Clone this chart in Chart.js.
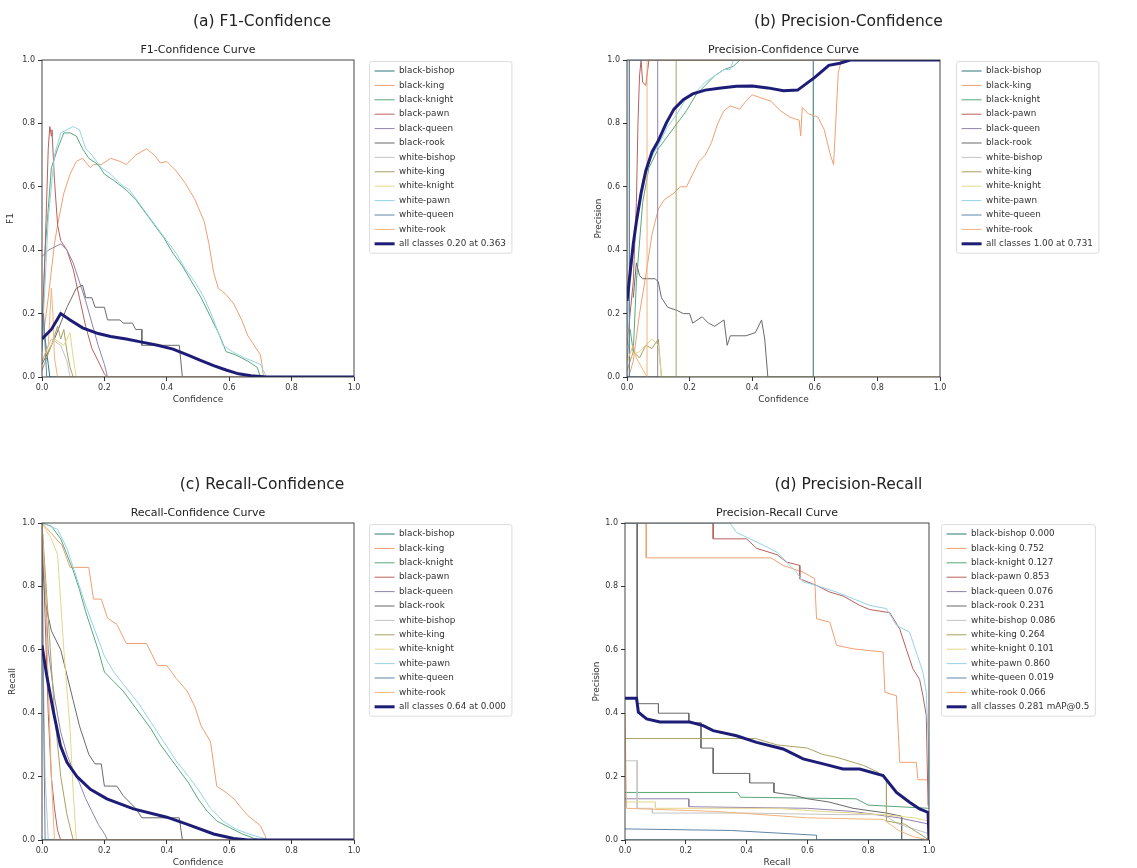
<!DOCTYPE html>
<html>
<head>
<meta charset="utf-8">
<script src="https://cdn.jsdelivr.net/npm/chart.js@4.4.0/dist/chart.umd.min.js"></script>
<style>
html, body { margin: 0; padding: 0; background: #fff; overflow: hidden; }
body { width: 1137px; height: 868px; position: relative; }
canvas { position: absolute; }
</style>
</head>
<body>
<canvas id="f1Chart" width="524" height="412" style="left:0px;top:0px"></canvas>
<canvas id="pChart" width="577" height="412" style="left:560px;top:0px"></canvas>
<canvas id="rChart" width="524" height="412" style="left:0px;top:463px"></canvas>
<canvas id="prChart" width="577" height="412" style="left:560px;top:463px"></canvas>
<script>
const classNames = ['black-bishop', 'black-king', 'black-knight', 'black-pawn', 'black-queen', 'black-rook',
  'white-bishop', 'white-king', 'white-knight', 'white-pawn', 'white-queen', 'white-rook'];
const apValues = ['0.000', '0.752', '0.127', '0.853', '0.076', '0.231', '0.086', '0.264', '0.101', '0.860', '0.019', '0.066'];
const tickValues = [0, 0.2, 0.4, 0.6, 0.8, 1.0];

// (a) F1-Confidence: [confidence, F1]
const f1BlackBishop = [[0,0.12],[0.005,0.18],[0.01,0.12],[0.02,0.04],[0.025,0],[1,0]];
const f1BlackKing = [[0,0.1],[0.02,0.25],[0.04,0.42],[0.05,0.48],[0.07,0.58],[0.09,0.64],[0.11,0.68],[0.13,0.69],[0.155,0.66],[0.165,0.67],[0.19,0.67],[0.22,0.69],[0.25,0.68],[0.27,0.67],[0.3,0.7],[0.335,0.72],[0.36,0.7],[0.38,0.675],[0.4,0.68],[0.43,0.65],[0.46,0.61],[0.49,0.56],[0.52,0.49],[0.535,0.42],[0.55,0.33],[0.565,0.28],[0.59,0.26],[0.615,0.23],[0.64,0.18],[0.66,0.13],[0.68,0.1],[0.7,0.07],[0.705,0.04],[0.71,0],[1,0]];
const f1BlackKnight = [[0,0.08],[0.01,0.4],[0.03,0.66],[0.05,0.72],[0.07,0.77],[0.09,0.77],[0.11,0.76],[0.13,0.72],[0.15,0.69],[0.18,0.67],[0.2,0.64],[0.23,0.62],[0.27,0.59],[0.3,0.56],[0.33,0.52],[0.36,0.48],[0.39,0.44],[0.42,0.39],[0.45,0.35],[0.48,0.3],[0.51,0.25],[0.54,0.19],[0.57,0.13],[0.59,0.08],[0.62,0.07],[0.66,0.05],[0.69,0.03],[0.7,0],[1,0]];
const f1BlackPawn = [[0,0.15],[0.01,0.4],[0.02,0.72],[0.025,0.79],[0.03,0.76],[0.032,0.78],[0.04,0.62],[0.05,0.48],[0.06,0.43],[0.08,0.4],[0.1,0.34],[0.12,0.25],[0.14,0.16],[0.16,0.09],[0.18,0.05],[0.2,0.01],[0.21,0],[1,0]];
const f1BlackQueen = [[0,0.38],[0.02,0.4],[0.04,0.41],[0.06,0.42],[0.08,0.4],[0.1,0.36],[0.12,0.3],[0.14,0.24],[0.16,0.17],[0.18,0.1],[0.2,0.04],[0.21,0],[1,0]];
const f1BlackRook = [[0,0.04],[0.04,0.12],[0.08,0.22],[0.11,0.28],[0.13,0.29],[0.14,0.25],[0.16,0.25],[0.17,0.22],[0.2,0.22],[0.21,0.18],[0.25,0.18],[0.26,0.17],[0.29,0.17],[0.3,0.15],[0.32,0.15],[0.32,0.1],[0.44,0.1],[0.45,0],[1,0]];
const f1WhiteBishop = [[0,0.05],[0.03,0.12],[0.06,0.1],[0.08,0.05],[0.09,0],[1,0]];
const f1WhiteKing = [[0,0.02],[0.03,0.1],[0.05,0.16],[0.06,0.12],[0.07,0.15],[0.08,0.08],[0.09,0.03],[0.1,0],[1,0]];
const f1WhiteKnight = [[0,0.05],[0.04,0.12],[0.07,0.1],[0.09,0.14],[0.1,0.06],[0.11,0],[1,0]];
const f1WhitePawn = [[0,0.1],[0.02,0.5],[0.04,0.7],[0.06,0.77],[0.08,0.78],[0.1,0.79],[0.12,0.78],[0.14,0.72],[0.16,0.7],[0.19,0.66],[0.22,0.64],[0.25,0.61],[0.28,0.59],[0.31,0.55],[0.34,0.51],[0.37,0.47],[0.4,0.43],[0.43,0.39],[0.46,0.34],[0.49,0.3],[0.52,0.25],[0.55,0.18],[0.58,0.1],[0.61,0.08],[0.65,0.06],[0.7,0.04],[0.72,0],[1,0]];
const f1WhiteQueen = [[0,0.1],[0.005,0.2],[0.01,0.1],[0.015,0],[1,0]];
const f1WhiteRook = [[0,0.05],[0.02,0.1],[0.03,0.28],[0.035,0.2],[0.04,0.06],[0.05,0],[1,0]];
const f1AllClasses = [[0,0.12],[0.03,0.15],[0.06,0.2],[0.09,0.18],[0.13,0.155],[0.18,0.137],[0.22,0.128],[0.27,0.12],[0.32,0.11],[0.37,0.1],[0.42,0.088],[0.47,0.068],[0.51,0.052],[0.55,0.036],[0.59,0.022],[0.63,0.01],[0.67,0.004],[0.72,0],[1,0]];

// (b) Precision-Confidence: [confidence, precision]
const pBlackBishop = [[0,0],[0.595,0],[0.595,1],[1,1]];
const pBlackKing = [[0.005,0],[0.02,0.05],[0.04,0.2],[0.06,0.32],[0.08,0.45],[0.1,0.53],[0.12,0.56],[0.15,0.58],[0.17,0.6],[0.19,0.6],[0.21,0.64],[0.23,0.68],[0.25,0.7],[0.27,0.74],[0.29,0.8],[0.31,0.84],[0.33,0.855],[0.36,0.845],[0.38,0.87],[0.4,0.89],[0.43,0.88],[0.46,0.87],[0.49,0.84],[0.52,0.82],[0.55,0.81],[0.555,0.76],[0.56,0.85],[0.58,0.83],[0.61,0.82],[0.63,0.78],[0.65,0.7],[0.66,0.67],[0.675,0.96],[0.685,1],[1,1]];
const pBlackKnight = [[0,0.05],[0.01,0.15],[0.02,0.08],[0.03,0.3],[0.05,0.55],[0.07,0.66],[0.1,0.72],[0.13,0.76],[0.16,0.8],[0.19,0.84],[0.22,0.89],[0.25,0.92],[0.28,0.95],[0.31,0.97],[0.34,0.98],[0.36,1],[1,1]];
const pBlackPawn = [[0,0.1],[0.01,0.2],[0.02,0.3],[0.03,0.55],[0.035,0.8],[0.04,0.95],[0.045,1],[0.05,0.93],[0.06,0.92],[0.07,1],[1,1]];
const pBlackQueen = [[0,0],[0.098,0],[0.098,1],[1,1]];
const pBlackRook = [[0.02,0.25],[0.03,0.36],[0.04,0.32],[0.05,0.31],[0.09,0.31],[0.1,0.3],[0.11,0.25],[0.13,0.22],[0.16,0.21],[0.18,0.2],[0.2,0.2],[0.21,0.17],[0.24,0.19],[0.26,0.17],[0.28,0.16],[0.31,0.18],[0.32,0.1],[0.33,0.13],[0.38,0.13],[0.41,0.14],[0.43,0.18],[0.44,0.12],[0.45,0],[1,0]];
const pWhiteBishop = [[0,0],[0.003,0.1],[0.004,1],[1,1]];
const pWhiteKing = [[0,0.02],[0.02,0.08],[0.04,0.06],[0.06,0.1],[0.08,0.09],[0.1,0.12],[0.11,0],[0.157,0],[0.157,1],[1,1]];
const pWhiteKnight = [[0,0.05],[0.02,0.07],[0.04,0.08],[0.06,0.1],[0.08,0.12],[0.1,0.1],[0.11,0],[1,0]];
const pWhitePawn = [[0,0.15],[0.01,0.3],[0.03,0.5],[0.05,0.62],[0.07,0.68],[0.1,0.73],[0.13,0.79],[0.16,0.83],[0.19,0.88],[0.22,0.9],[0.25,0.93],[0.28,0.95],[0.31,0.97],[0.33,0.97],[0.34,1],[1,1]];
const pWhiteQueen = [[0,0],[0.008,0],[0.008,1],[1,1]];
const pWhiteRook = [[0,0.05],[0.02,0.1],[0.03,0.06],[0.064,0],[0.064,1],[1,1]];
const pAllClasses = [[0,0.24],[0.01,0.33],[0.02,0.42],[0.03,0.49],[0.045,0.58],[0.06,0.65],[0.08,0.71],[0.1,0.745],[0.125,0.8],[0.15,0.845],[0.18,0.875],[0.21,0.893],[0.25,0.905],[0.3,0.912],[0.35,0.917],[0.4,0.918],[0.45,0.912],[0.5,0.903],[0.545,0.905],[0.6,0.945],[0.645,0.983],[0.68,0.99],[0.713,1],[1,1]];

// (c) Recall-Confidence: [confidence, recall]
const rBlackBishop = [[0,0],[1,0]];
const rBlackKing = [[0,1],[0.027,0.97],[0.064,0.93],[0.09,0.86],[0.15,0.86],[0.165,0.76],[0.19,0.76],[0.21,0.7],[0.24,0.68],[0.27,0.62],[0.335,0.62],[0.37,0.55],[0.4,0.55],[0.43,0.51],[0.465,0.47],[0.49,0.42],[0.51,0.36],[0.54,0.31],[0.56,0.17],[0.59,0.15],[0.615,0.13],[0.64,0.1],[0.66,0.077],[0.7,0.045],[0.715,0.014],[0.72,0],[1,0]];
const rBlackKnight = [[0,1],[0.03,0.99],[0.06,0.95],[0.08,0.9],[0.1,0.85],[0.12,0.79],[0.14,0.72],[0.16,0.66],[0.18,0.6],[0.2,0.53],[0.23,0.5],[0.26,0.47],[0.29,0.43],[0.32,0.39],[0.35,0.35],[0.38,0.3],[0.41,0.26],[0.44,0.22],[0.47,0.18],[0.5,0.13],[0.53,0.09],[0.56,0.06],[0.6,0.04],[0.64,0.02],[0.68,0.005],[0.7,0],[1,0]];
const rBlackPawn = [[0,1],[0.01,0.7],[0.02,0.4],[0.03,0.2],[0.04,0.1],[0.05,0.03],[0.06,0],[1,0]];
const rBlackQueen = [[0,1],[0.02,0.6],[0.04,0.45],[0.06,0.34],[0.08,0.27],[0.1,0.22],[0.12,0.18],[0.14,0.13],[0.16,0.09],[0.18,0.05],[0.2,0.02],[0.21,0],[1,0]];
const rBlackRook = [[0,0.9],[0.01,0.75],[0.03,0.66],[0.06,0.6],[0.08,0.52],[0.1,0.44],[0.12,0.36],[0.14,0.3],[0.15,0.27],[0.17,0.24],[0.19,0.24],[0.2,0.17],[0.24,0.17],[0.26,0.14],[0.3,0.1],[0.32,0.07],[0.44,0.07],[0.45,0],[1,0]];
const rWhiteBishop = [[0,1],[0.005,0.5],[0.01,0.2],[0.02,0],[1,0]];
const rWhiteKing = [[0,1],[0.02,0.7],[0.04,0.4],[0.06,0.2],[0.08,0.08],[0.1,0],[1,0]];
const rWhiteKnight = [[0,1],[0.03,0.95],[0.05,0.9],[0.07,0.6],[0.09,0.35],[0.1,0.15],[0.11,0],[1,0]];
const rWhitePawn = [[0,1],[0.05,0.98],[0.08,0.92],[0.11,0.83],[0.14,0.74],[0.17,0.66],[0.2,0.58],[0.23,0.53],[0.27,0.48],[0.31,0.43],[0.35,0.37],[0.39,0.31],[0.43,0.25],[0.47,0.2],[0.5,0.16],[0.54,0.1],[0.58,0.06],[0.62,0.035],[0.66,0.02],[0.7,0.008],[0.73,0],[1,0]];
const rWhiteQueen = [[0,1],[0.005,0.4],[0.01,0],[1,0]];
const rWhiteRook = [[0,1],[0.01,0.8],[0.02,0.5],[0.03,0.2],[0.04,0],[1,0]];
const rAllClasses = [[0,0.614],[0.015,0.52],[0.037,0.403],[0.059,0.298],[0.08,0.245],[0.112,0.2],[0.155,0.16],[0.208,0.13],[0.293,0.098],[0.4,0.072],[0.464,0.05],[0.55,0.019],[0.614,0.005],[0.66,0],[1,0]];

// (d) Precision-Recall: [recall, precision]
const prBlackBishop = [[0,0],[1,0]];
const prBlackKing = [[0,1],[0.07,1],[0.07,0.89],[0.48,0.89],[0.52,0.866],[0.586,0.845],[0.624,0.824],[0.63,0.698],[0.674,0.687],[0.696,0.614],[0.751,0.603],[0.849,0.593],[0.855,0.466],[0.893,0.455],[0.904,0.245],[0.958,0.245],[0.964,0.19],[1,0.19]];
const prBlackKnight = [[0,0.15],[0.37,0.15],[0.38,0.135],[0.76,0.13],[0.8,0.11],[1,0.1]];
const prBlackPawn = [[0,1],[0.29,1],[0.29,0.95],[0.4,0.95],[0.433,0.92],[0.5,0.9],[0.531,0.877],[0.575,0.866],[0.575,0.824],[0.63,0.803],[0.674,0.782],[0.717,0.77],[0.772,0.74],[0.805,0.727],[0.871,0.717],[0.904,0.665],[0.925,0.603],[0.947,0.54],[0.969,0.507],[0.98,0.455],[0.991,0.393],[0.997,0.108]];
const prBlackQueen = [[0,0.13],[0.21,0.13],[0.21,0.105],[0.6,0.1],[0.75,0.09],[0.9,0.07],[1,0.05]];
const prBlackRook = [[0,1],[0.04,1],[0.04,0.43],[0.11,0.43],[0.11,0.4],[0.21,0.4],[0.21,0.37],[0.25,0.37],[0.25,0.29],[0.29,0.29],[0.29,0.21],[0.41,0.21],[0.41,0.18],[0.49,0.18],[0.49,0.15],[0.56,0.14],[0.6,0.13],[0.67,0.12],[0.75,0.1],[0.86,0.085],[0.91,0.075],[0.91,0],[1,0]];
const prWhiteBishop = [[0,0.25],[0.04,0.25],[0.04,0.1],[0.09,0.1],[0.09,0.085],[0.4,0.085],[0.7,0.08],[0.85,0.08],[0.9,0.05],[1,0.02]];
const prWhiteKing = [[0,0.32],[0.43,0.32],[0.5,0.3],[0.6,0.29],[0.65,0.27],[0.7,0.26],[0.785,0.235],[0.83,0.215],[0.86,0.19],[0.86,0.06],[0.92,0.05],[1,0]];
const prWhiteKnight = [[0,0.12],[0.1,0.12],[0.1,0.1],[0.5,0.1],[0.65,0.09],[0.85,0.08],[0.95,0.07],[1,0.06]];
const prWhitePawn = [[0,1],[0.345,1],[0.367,0.97],[0.455,0.93],[0.5,0.908],[0.564,0.845],[0.586,0.814],[0.63,0.803],[0.696,0.782],[0.751,0.761],[0.805,0.74],[0.86,0.73],[0.893,0.677],[0.936,0.656],[0.958,0.593],[0.98,0.53],[0.991,0.466],[0.997,0.32],[1,0.1]];
const prWhiteQueen = [[0,0.035],[0.35,0.03],[0.63,0.015],[0.63,0],[1,0]];
const prWhiteRook = [[0,0.4],[0.005,0.1],[0.3,0.09],[0.6,0.07],[0.85,0.065],[0.9,0.03],[0.95,0.01],[1,0]];
const prAllClasses = [[0,0.447],[0.038,0.447],[0.044,0.403],[0.071,0.382],[0.115,0.372],[0.213,0.372],[0.257,0.361],[0.29,0.345],[0.367,0.329],[0.433,0.308],[0.52,0.287],[0.586,0.256],[0.652,0.24],[0.717,0.224],[0.772,0.224],[0.849,0.203],[0.893,0.15],[0.936,0.119],[0.969,0.098],[0.997,0.087],[1,0]];

// styles
const classColors = ['#2f7474', '#eea072', '#58a878', '#b8605c', '#9282aa', '#6a6a6a',
  '#c4c4c4', '#a8a262', '#e6d68a', '#96d2e8', '#5f86a8', '#f2b47c'];
const allColor = '#1d1d78';
const fontFamily = 'DejaVu Sans';

Chart.defaults.font.family = fontFamily;
Chart.defaults.color = '#333';

function buildDatasets(series, labels, allPts, allLabel) {
  const ds = series.map((pts, i) => ({
    label: labels[i],
    data: pts.map(p => ({x: p[0], y: p[1]})),
    borderColor: classColors[i],
    backgroundColor: classColors[i],
    borderWidth: 1,
    pointRadius: 0,
    order: series.length - i
  }));
  ds.push({
    label: allLabel,
    data: allPts.map(p => ({x: p[0], y: p[1]})),
    borderColor: allColor,
    backgroundColor: allColor,
    borderWidth: 3,
    pointRadius: 0,
    order: 0
  });
  return ds;
}

// frame around the plot area and a box around the legend
const framePlugin = {
  id: 'frame',
  afterDatasetsDraw(chart) {
    const a = chart.chartArea, ctx = chart.ctx;
    ctx.save();
    ctx.strokeStyle = '#333';
    ctx.lineWidth = 0.9;
    ctx.strokeRect(a.left, a.top, a.right - a.left, a.bottom - a.top);
    ctx.restore();
  },
  afterDraw(chart) {
    const hb = chart.legend.legendHitBoxes;
    if (!hb || !hb.length) return;
    const ctx = chart.ctx;
    const left = hb[0].left - 5, top = hb[0].top - 5;
    const right = Math.max(...hb.map(h => h.left + h.width)) + 6;
    const last = hb[hb.length - 1];
    const bottom = last.top + last.height + 5;
    ctx.save();
    ctx.strokeStyle = '#dcdcdc';
    ctx.lineWidth = 1;
    ctx.beginPath();
    ctx.roundRect(left, top, right - left, bottom - top, 2);
    ctx.stroke();
    ctx.restore();
  }
};

function legendPlacer(width, dx, dy) {
  return {
    id: 'legendPlacer',
    afterInit(chart) {
      const lg = chart.legend;
      const fit = lg.fit.bind(lg);
      lg.fit = function () { fit(); this.width = width; };
    },
    afterLayout(chart) {
      const lg = chart.legend;
      lg.left += dx; lg.right += dx;
      lg.top += dy; lg.bottom += dy;
    }
  };
}

function makeChart(id, p) {
  return new Chart(document.getElementById(id), {
    type: 'line',
    data: {datasets: buildDatasets(p.series, p.labels, p.all, p.allLabel)},
    options: {
      responsive: false,
      animation: false,
      devicePixelRatio: 1,
      layout: {padding: {left: 0, right: 0, top: 0, bottom: 5}},
      plugins: {
        title: {display: true, text: p.title, color: '#222',
          font: {size: 15.5, weight: 'normal'}, padding: {top: 13, bottom: 11.8}},
        subtitle: {display: true, text: p.subtitle, color: '#222', fullSize: false,
          font: {size: 11}, padding: {top: 0, bottom: 3.4}},
        legend: {
          position: 'right', align: 'start', fullSize: false,
          labels: {
            usePointStyle: true, pointStyle: 'line', pointStyleWidth: 20,
            font: {size: 8.8}, color: '#333', padding: 5.6,
            sort: (a, b) => a.datasetIndex - b.datasetIndex
          }
        },
        tooltip: {enabled: false}
      },
      scales: {
        x: {
          type: 'linear', min: 0, max: 1,
          afterBuildTicks: s => { s.ticks = tickValues.map(v => ({value: v})); },
          ticks: {callback: v => v.toFixed(1), font: {size: 8}, color: '#333', padding: 2, maxRotation: 0},
          grid: {drawOnChartArea: false, tickLength: 4, color: '#333'},
          border: {display: false},
          title: {display: true, text: p.xTitle, font: {size: 9}, color: '#333', padding: {top: 1, bottom: 2}},
          afterFit: s => { s.height = 30; }
        },
        y: {
          type: 'linear', min: 0, max: 1,
          afterBuildTicks: s => { s.ticks = tickValues.map(v => ({value: v})); },
          ticks: {callback: v => v.toFixed(1), font: {size: 8}, color: '#333', padding: 3},
          grid: {drawOnChartArea: false, tickLength: 4, color: '#333'},
          border: {display: false},
          title: {display: true, text: p.yTitle, font: {size: 9}, color: '#333', padding: {top: p.yTitlePad, bottom: 0}},
          afterFit: s => { s.width = p.yWidth; }
        }
      }
    },
    plugins: [framePlugin, legendPlacer(p.legendWidth, p.legendDx, 1)]
  });
}

makeChart('f1Chart', {
  title: '(a) F1-Confidence', subtitle: 'F1-Confidence Curve',
  xTitle: 'Confidence', yTitle: 'F1',
  series: [f1BlackBishop, f1BlackKing, f1BlackKnight, f1BlackPawn, f1BlackQueen, f1BlackRook,
    f1WhiteBishop, f1WhiteKing, f1WhiteKnight, f1WhitePawn, f1WhiteQueen, f1WhiteRook],
  labels: classNames, all: f1AllClasses, allLabel: 'all classes 0.20 at 0.363',
  yWidth: 42, yTitlePad: 5, legendWidth: 170, legendDx: 15
});

makeChart('pChart', {
  title: '(b) Precision-Confidence', subtitle: 'Precision-Confidence Curve',
  xTitle: 'Confidence', yTitle: 'Precision',
  series: [pBlackBishop, pBlackKing, pBlackKnight, pBlackPawn, pBlackQueen, pBlackRook,
    pWhiteBishop, pWhiteKing, pWhiteKnight, pWhitePawn, pWhiteQueen, pWhiteRook],
  labels: classNames, all: pAllClasses, allLabel: 'all classes 1.00 at 0.731',
  yWidth: 67, yTitlePad: 33, legendWidth: 197, legendDx: 16
});

makeChart('rChart', {
  title: '(c) Recall-Confidence', subtitle: 'Recall-Confidence Curve',
  xTitle: 'Confidence', yTitle: 'Recall',
  series: [rBlackBishop, rBlackKing, rBlackKnight, rBlackPawn, rBlackQueen, rBlackRook,
    rWhiteBishop, rWhiteKing, rWhiteKnight, rWhitePawn, rWhiteQueen, rWhiteRook],
  labels: classNames, all: rAllClasses, allLabel: 'all classes 0.64 at 0.000',
  yWidth: 42, yTitlePad: 7, legendWidth: 170, legendDx: 15
});

makeChart('prChart', {
  title: '(d) Precision-Recall', subtitle: 'Precision-Recall Curve',
  xTitle: 'Recall', yTitle: 'Precision',
  series: [prBlackBishop, prBlackKing, prBlackKnight, prBlackPawn, prBlackQueen, prBlackRook,
    prWhiteBishop, prWhiteKing, prWhiteKnight, prWhitePawn, prWhiteQueen, prWhiteRook],
  labels: classNames.map((n, i) => n + ' ' + apValues[i]), all: prAllClasses,
  allLabel: 'all classes 0.281 mAP@0.5',
  yWidth: 65, yTitlePad: 31, legendWidth: 208, legendDx: 12
});
</script>
</body>
</html>
